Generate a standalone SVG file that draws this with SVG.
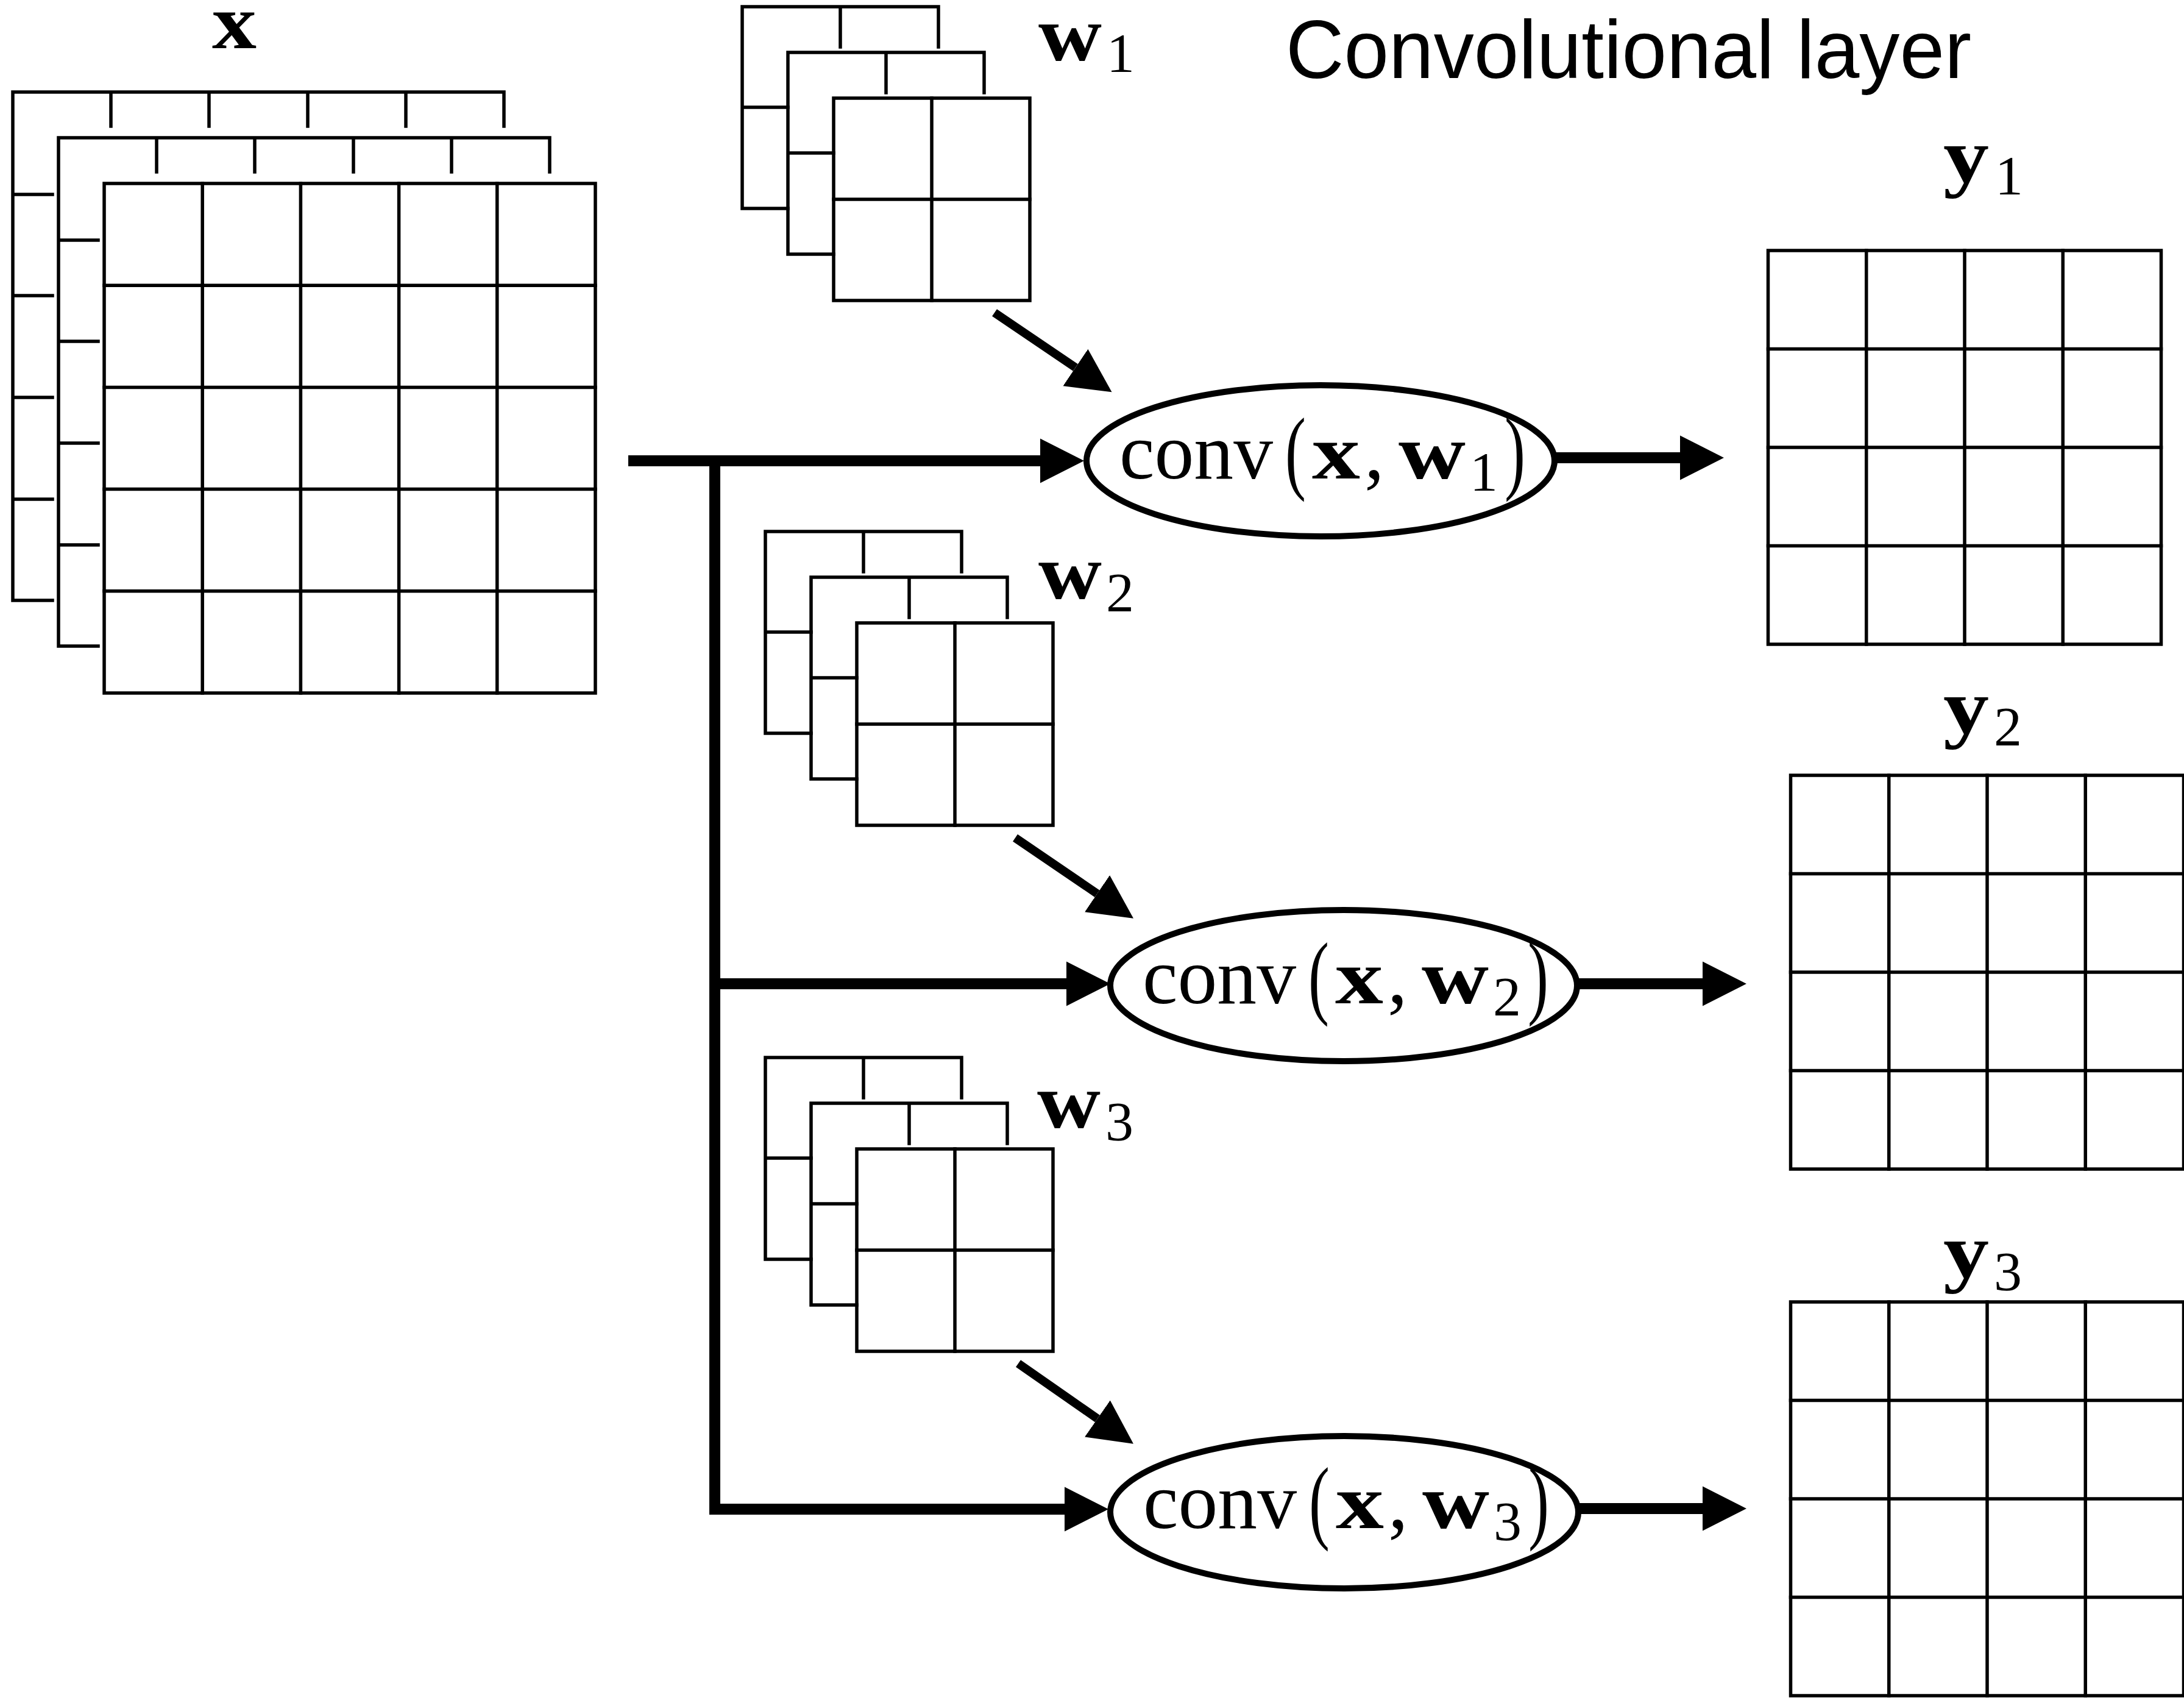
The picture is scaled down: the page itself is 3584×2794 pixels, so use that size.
<svg xmlns="http://www.w3.org/2000/svg" xmlns:xlink="http://www.w3.org/1999/xlink" width="3584" height="2794" viewBox="0 0 3584 2794">
  <style>
    .g { fill: none; stroke: #000; stroke-width: 5.5; stroke-linecap: square; }
    .conn { fill: none; stroke: #000; stroke-width: 18; stroke-linejoin: miter; }
    .diag { fill: none; stroke: #000; stroke-width: 14; }
    .node { fill: none; stroke: #000; stroke-width: 10; }
    .rm { font-family: "Liberation Serif", "Times New Roman", serif; fill: #000; }
    .bf { font-family: "Liberation Serif", "Times New Roman", serif; font-weight: bold; fill: #000; }
    .title { font-family: "Liberation Sans", Arial, sans-serif; fill: #000; }
  </style>
  <defs>
    <marker id="head" markerUnits="userSpaceOnUse" markerWidth="74" markerHeight="76" viewBox="0 -38 74 76" refX="0" refY="0" orient="auto">
      <path d="M0,-36.5 L72,0 L0,36.5 Z" fill="#000"/>
    </marker>
    <g id="xstackShape">
      <path class="g" d="M0,0 H806 M161,0 V56 M322,0 V56 M484,0 V56 M645,0 V56 M806,0 V56 M0,0 V834 M0,168 H65 M0,334 H65 M0,501 H65 M0,668 H65 M0,834 H65"/>
      <path class="g" d="M75,75 H881 M236,75 V131 M397,75 V131 M559,75 V131 M720,75 V131 M881,75 V131 M75,75 V909 M75,243 H140 M75,409 H140 M75,576 H140 M75,743 H140 M75,909 H140"/>
      <rect class="g" x="150" y="150" width="806" height="836"/>
      <path class="g" d="M311.2,150 V986 M472.4,150 V986 M633.6,150 V986 M794.8,150 V986 M150,317.2 H956 M150,484.4 H956 M150,651.6 H956 M150,818.8 H956"/>
    </g>
    <g id="kernelShape">
      <path class="g" d="M0,0 H322 M161,0 V66 M322,0 V66 M0,0 V331 M0,165 H75 M0,331 H75"/>
      <path class="g" d="M75,75 H397 M236,75 V141 M397,75 V141 M75,75 V406 M75,240 H150 M75,406 H150"/>
      <rect class="g" x="150" y="150" width="322" height="332"/>
      <path class="g" d="M311,150 V482 M150,316 H472"/>
    </g>
    <g id="ygridShape">
      <rect class="g" x="0" y="0" width="645" height="646"/>
      <path class="g" d="M161.25,0 V646 M322.5,0 V646 M483.75,0 V646 M0,161.5 H645 M0,323 H645 M0,484.5 H645"/>
    </g>
  </defs>

  <rect x="0" y="0" width="3584" height="2794" fill="#fff"/>

  <g id="title">
    <text class="title" x="2110" y="128" font-size="136" textLength="1125" lengthAdjust="spacingAndGlyphs">Convolutional layer</text>
  </g>

  <g id="x">
    <use xlink:href="#xstackShape" href="#xstackShape" transform="translate(21,151)"/>
    <text class="bf" x="348" y="79" font-size="128" textLength="73" lengthAdjust="spacingAndGlyphs">x</text>
  </g>

  <g id="w1">
    <use xlink:href="#kernelShape" href="#kernelShape" transform="translate(1218,11)"/>
    <text class="bf" x="1704" y="99" font-size="128" textLength="104" lengthAdjust="spacingAndGlyphs">w</text>
    <text class="rm" x="1816" y="118" font-size="92">1</text>
  </g>

  <g id="w2">
    <use xlink:href="#kernelShape" href="#kernelShape" transform="translate(1256,872)"/>
    <text class="bf" x="1704" y="982" font-size="128" textLength="104" lengthAdjust="spacingAndGlyphs">w</text>
    <text class="rm" x="1815" y="1003" font-size="92">2</text>
  </g>

  <g id="w3">
    <use xlink:href="#kernelShape" href="#kernelShape" transform="translate(1256,1735)"/>
    <text class="bf" x="1702" y="1850" font-size="128" textLength="104" lengthAdjust="spacingAndGlyphs">w</text>
    <text class="rm" x="1814" y="1871" font-size="92">3</text>
  </g>

  <g id="conv1" transform="translate(2167,756)">
    <ellipse class="node" cx="0" cy="0" rx="384" ry="124"/>
    <text class="rm" x="-330" y="29" font-size="131" textLength="252" lengthAdjust="spacingAndGlyphs">conv</text>
    <text class="rm" x="-58" y="35" font-size="152" textLength="34" lengthAdjust="spacingAndGlyphs">(</text>
    <text class="bf" x="-14" y="29" font-size="128" textLength="79" lengthAdjust="spacingAndGlyphs">x</text>
    <text class="rm" x="72" y="29" font-size="131">,</text>
    <text class="bf" x="128" y="29" font-size="128" textLength="110" lengthAdjust="spacingAndGlyphs">w</text>
    <text class="rm" x="245" y="49" font-size="92">1</text>
    <text class="rm" x="302" y="35" font-size="152" textLength="34" lengthAdjust="spacingAndGlyphs">)</text>
  </g>

  <g id="conv2" transform="translate(2205,1617)">
    <ellipse class="node" cx="0" cy="0" rx="383" ry="124"/>
    <text class="rm" x="-330" y="29" font-size="131" textLength="252" lengthAdjust="spacingAndGlyphs">conv</text>
    <text class="rm" x="-58" y="35" font-size="152" textLength="34" lengthAdjust="spacingAndGlyphs">(</text>
    <text class="bf" x="-14" y="29" font-size="128" textLength="79" lengthAdjust="spacingAndGlyphs">x</text>
    <text class="rm" x="72" y="29" font-size="131">,</text>
    <text class="bf" x="128" y="29" font-size="128" textLength="110" lengthAdjust="spacingAndGlyphs">w</text>
    <text class="rm" x="245" y="49" font-size="92">2</text>
    <text class="rm" x="302" y="35" font-size="152" textLength="34" lengthAdjust="spacingAndGlyphs">)</text>
  </g>

  <g id="conv3" transform="translate(2206,2481)">
    <ellipse class="node" cx="0" cy="0" rx="384" ry="125"/>
    <text class="rm" x="-330" y="26" font-size="131" textLength="252" lengthAdjust="spacingAndGlyphs">conv</text>
    <text class="rm" x="-58" y="32" font-size="152" textLength="34" lengthAdjust="spacingAndGlyphs">(</text>
    <text class="bf" x="-14" y="26" font-size="128" textLength="79" lengthAdjust="spacingAndGlyphs">x</text>
    <text class="rm" x="72" y="26" font-size="131">,</text>
    <text class="bf" x="128" y="26" font-size="128" textLength="110" lengthAdjust="spacingAndGlyphs">w</text>
    <text class="rm" x="245" y="46" font-size="92">3</text>
    <text class="rm" x="302" y="32" font-size="152" textLength="34" lengthAdjust="spacingAndGlyphs">)</text>
  </g>

  <g id="y1">
    <use xlink:href="#ygridShape" href="#ygridShape" transform="translate(2901.5,411)"/>
    <text class="bf" x="3189" y="299" font-size="128" textLength="75" lengthAdjust="spacingAndGlyphs">y</text>
    <text class="rm" x="3274" y="319" font-size="92">1</text>
  </g>

  <g id="y2">
    <use xlink:href="#ygridShape" href="#ygridShape" transform="translate(2938.5,1272)"/>
    <text class="bf" x="3189" y="1203" font-size="128" textLength="75" lengthAdjust="spacingAndGlyphs">y</text>
    <text class="rm" x="3272" y="1223" font-size="92">2</text>
  </g>

  <g id="y3">
    <use xlink:href="#ygridShape" href="#ygridShape" transform="translate(2938.5,2136)"/>
    <text class="bf" x="3189" y="2096" font-size="128" textLength="75" lengthAdjust="spacingAndGlyphs">y</text>
    <text class="rm" x="3272" y="2117" font-size="92">3</text>
  </g>

  <g id="connectors">
    <path class="conn" d="M1031,756 H1707" marker-end="url(#head)"/>
    <path class="conn" d="M1173,747 V2476 H1747" marker-end="url(#head)"/>
    <path class="conn" d="M1173,1614 H1750" marker-end="url(#head)"/>
    <path class="conn" d="M2551,751 H2757" marker-end="url(#head)"/>
    <path class="conn" d="M2587,1614 H2794" marker-end="url(#head)"/>
    <path class="conn" d="M2590,2475 H2794" marker-end="url(#head)"/>
    <path class="diag" d="M1632,513 L1764.9,603" marker-end="url(#head)"/>
    <path class="diag" d="M1666,1374.6 L1800.5,1466.2" marker-end="url(#head)"/>
    <path class="diag" d="M1671,2237 L1800.9,2327.5" marker-end="url(#head)"/>
  </g>
</svg>
